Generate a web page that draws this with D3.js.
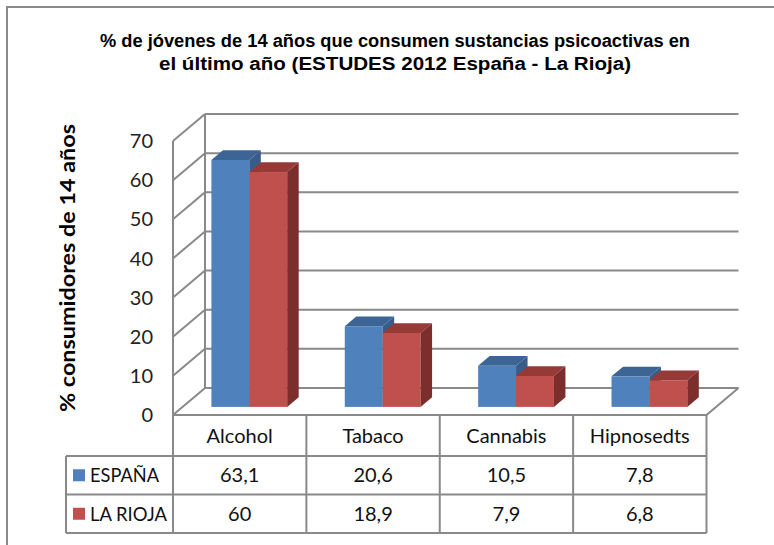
<!DOCTYPE html>
<html>
<head>
<meta charset="utf-8">
<script src="https://cdn.jsdelivr.net/npm/d3@7"></script>
<style>
  body { margin: 0; background: #fff; }
  svg { display: block; }
</style>
</head>
<body>
<svg class="chart"></svg>
<script>
const width = 774;
const height = 545;

// data
const categories = ['Alcohol', 'Tabaco', 'Cannabis', 'Hipnosedts'];
const series = ['ESPAÑA', 'LA RIOJA'];
const espana = [63.1, 20.6, 10.5, 7.8];
const laRioja = [60, 18.9, 7.9, 6.8];
const yTicks = [0, 10, 20, 30, 40, 50, 60, 70];
const titleLines = [
	'% de jóvenes de 14 años que consumen sustancias psicoactivas en',
	'el último año (ESTUDES 2012 España - La Rioja)'
];
const yTitle = '% consumidores de 14 años';

const values = [espana, laRioja];
const colors = {
	front: ['#4f81bd', '#c0504d'],
	top: ['#3c6494', '#953a37'],
	side: ['#385d8a', '#7b2e2c']
};
const gridColor = '#898989';
const fmt = v => String(v).replace('.', ',');

const svg = d3.select('svg.chart')
	.attr('width', width)
	.attr('height', height);

// outer frame (only top + left visible)
svg.append('path')
	.attr('d', `M7,${height} L7,7 L${width},7`)
	.attr('fill', 'none')
	.attr('stroke', '#8a8a8a')
	.attr('stroke-width', 2);

// title
svg.append('g').selectAll('text')
	.data(titleLines).enter()
	.append('text')
	.attr('x', 395)
	.attr('y', (d, i) => 47 + i * 23)
	.attr('text-anchor', 'middle')
	.attr('font-family', 'Liberation Sans, Arial, sans-serif')
	.attr('font-weight', 'bold')
	.attr('font-size', 18)
	.attr('textLength', (d, i) => i === 0 ? 590 : 472)
	.attr('lengthAdjust', 'spacingAndGlyphs')
	.attr('fill', '#000')
	.text(d => d);

// plot geometry
const x0 = 173, x1 = 706.5;
const depth = { dx: 32, dy: -27 };
const barD0 = 0.3, barD1 = 0.66;

const x = d3.scaleBand()
	.domain(categories)
	.range([x0, x1]);

const xs = d3.scaleBand()
	.domain(series)
	.range([0, x.bandwidth()])
	.paddingOuter(0.76);

const y = d3.scaleLinear()
	.domain([0, 70])
	.range([415, 141]);

const wall = svg.append('g')
	.attr('fill', 'none')
	.attr('stroke', gridColor)
	.attr('stroke-width', 2);

// back wall gridlines
wall.selectAll('line.grid')
	.data(yTicks).enter()
	.append('line')
	.attr('class', 'grid')
	.attr('x1', x0 + depth.dx)
	.attr('x2', x1 + depth.dx)
	.attr('y1', d => y(d) + depth.dy)
	.attr('y2', d => y(d) + depth.dy);

// side wall diagonals
wall.selectAll('line.diag')
	.data(yTicks).enter()
	.append('line')
	.attr('class', 'diag')
	.attr('x1', x0)
	.attr('y1', d => y(d))
	.attr('x2', x0 + depth.dx)
	.attr('y2', d => y(d) + depth.dy);

// verticals of side wall
wall.append('line')
	.attr('x1', x0).attr('x2', x0)
	.attr('y1', y(70)).attr('y2', y(0));
wall.append('line')
	.attr('x1', x0 + depth.dx).attr('x2', x0 + depth.dx)
	.attr('y1', y(70) + depth.dy).attr('y2', y(0) + depth.dy);

// floor
wall.append('path')
	.attr('d', `M${x0},${y(0)} L${x1},${y(0)} L${x1 + depth.dx},${y(0) + depth.dy}`);

// y tick labels
svg.append('g').selectAll('text')
	.data(yTicks).enter()
	.append('text')
	.attr('x', 153)
	.attr('y', d => y(d))
	.attr('dy', '0.36em')
	.attr('text-anchor', 'end')
	.attr('font-family', 'Lato, sans-serif')
	.attr('font-size', 20)
	.attr('fill', '#222')
	.text(d => d);

// y axis title
svg.append('text')
	.attr('transform', 'translate(75, 268) rotate(-90)')
	.attr('text-anchor', 'middle')
	.attr('font-family', 'Lato, sans-serif')
	.attr('font-weight', 'bold')
	.attr('font-size', 20)
	.attr('textLength', 288)
	.attr('lengthAdjust', 'spacingAndGlyphs')
	.attr('fill', '#000')
	.text(yTitle);

// bars
const bdx0 = depth.dx * barD0, bdy0 = depth.dy * barD0;
const bdx = depth.dx * (barD1 - barD0), bdy = depth.dy * (barD1 - barD0);

const barData = [];
categories.forEach((c, ci) => {
	series.forEach((s, si) => {
		barData.push({ cat: c, s, si, value: values[si][ci] });
	});
});

const bar = svg.append('g').selectAll('g')
	.data(barData).enter()
	.append('g')
	.attr('transform', `translate(${bdx0}, ${bdy0})`);

bar.append('rect')
	.attr('x', d => x(d.cat) + xs(d.s))
	.attr('y', d => y(d.value))
	.attr('width', xs.bandwidth())
	.attr('height', d => y(0) - y(d.value))
	.attr('fill', d => colors.front[d.si]);

bar.append('path')
	.attr('d', d => {
		const l = x(d.cat) + xs(d.s), r = l + xs.bandwidth(), t = y(d.value);
		return `M${l},${t} L${l + bdx},${t + bdy} L${r + bdx},${t + bdy} L${r},${t} Z`;
	})
	.attr('fill', d => colors.top[d.si]);

bar.append('path')
	.attr('d', d => {
		const r = x(d.cat) + xs(d.s) + xs.bandwidth(), t = y(d.value), b = y(0);
		return `M${r},${t} L${r + bdx},${t + bdy} L${r + bdx},${b + bdy} L${r},${b} Z`;
	})
	.attr('fill', d => colors.side[d.si]);

// data table
const tableLeft = 66;
const rowY = [415, 456, 494.5, 533];

const table = svg.append('g')
	.attr('stroke', gridColor)
	.attr('stroke-width', 2);

table.selectAll('line.col')
	.data(categories.map(c => x(c)).concat([x1])).enter()
	.append('line')
	.attr('x1', d => d).attr('x2', d => d)
	.attr('y1', rowY[0]).attr('y2', rowY[3]);

table.selectAll('line.row')
	.data(rowY.slice(1)).enter()
	.append('line')
	.attr('x1', tableLeft).attr('x2', x1)
	.attr('y1', d => d).attr('y2', d => d);

table.append('line')
	.attr('x1', tableLeft).attr('x2', tableLeft)
	.attr('y1', rowY[1]).attr('y2', rowY[3]);

const cellFont = g => g
	.attr('font-family', 'Lato, sans-serif')
	.attr('font-size', 20)
	.attr('fill', '#111');

svg.append('g').call(cellFont)
	.selectAll('text')
	.data(categories).enter()
	.append('text')
	.attr('x', d => x(d) + x.bandwidth() / 2)
	.attr('y', (rowY[0] + rowY[1]) / 2)
	.attr('dy', '0.36em')
	.attr('text-anchor', 'middle')
	.text(d => d);

const legendLen = [69, 77];

series.forEach((s, si) => {
	const cy = (rowY[si + 1] + rowY[si + 2]) / 2;
	const row = svg.append('g').call(cellFont);
	row.selectAll('text')
		.data(values[si]).enter()
		.append('text')
		.attr('x', (d, i) => x(categories[i]) + x.bandwidth() / 2)
		.attr('y', cy)
		.attr('dy', '0.36em')
		.attr('text-anchor', 'middle')
		.text(d => fmt(d));
	row.append('rect')
		.attr('x', 73)
		.attr('y', cy - 6)
		.attr('width', 12)
		.attr('height', 12)
		.attr('fill', colors.front[si]);
	row.append('text')
		.attr('x', 90)
		.attr('y', cy)
		.attr('dy', '0.36em')
		.attr('textLength', legendLen[si])
		.attr('lengthAdjust', 'spacingAndGlyphs')
		.text(s);
});
</script>
</body>
</html>
